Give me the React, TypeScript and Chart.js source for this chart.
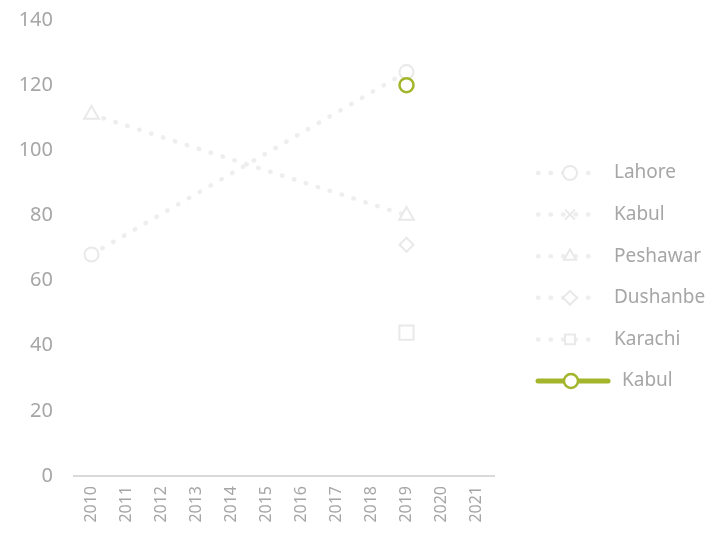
import React, { useEffect, useRef } from "react";
import { Chart, registerables } from "chart.js";
import { drawPoint } from "chart.js/helpers";

Chart.register(...registerables);

const years = ["2010", "2011", "2012", "2013", "2014", "2015", "2016", "2017", "2018", "2019", "2020", "2021"];
const lahore = [68, null, null, null, null, null, null, null, null, 124, null, null];
const kabulX = [null, null, null, null, null, null, null, null, null, null, null, null];
const peshawar = [111, null, null, null, null, null, null, null, null, 80, null, null];
const dushanbe = [null, null, null, null, null, null, null, null, null, 71, null, null];
const karachi = [null, null, null, null, null, null, null, null, null, 44, null, null];
const kabul = [null, null, null, null, null, null, null, null, null, 120, null, null];
const yTicks = [0, 20, 40, 60, 80, 100, 120, 140];

const FONT = "'Noto Sans', sans-serif";
const GREY = "#eeeeee";
const MARK = "#e9e9e9";
const GREEN = "#a3b52b";
const TEXT = "#a6a6a6";

function greyDs(label: string, data: (number | null)[], style: string, radius: number) {
  return {
    label,
    data,
    order: 1,
    borderColor: GREY,
    borderWidth: 4.5,
    borderDash: [0.5, 12],
    borderCapStyle: "round" as const,
    pointStyle: style,
    pointRadius: radius,
    pointBorderColor: MARK,
    pointBorderWidth: 2,
    pointBackgroundColor: "#ffffff",
    spanGaps: true,
    fill: false,
  };
}

const legendPlugin = {
  id: "customLegend",
  afterDraw(chart: any) {
    const ctx = chart.ctx;
    const ds = chart.data.datasets;
    const x0 = 530;
    const yStart = 165;
    const step = 41.6;
    ctx.save();
    ds.forEach((d: any, i: number) => {
      const y = yStart + i * step;
      const green = d.borderColor === GREEN;
      const x1 = green ? 600 : 592;
      const mx = green ? 563 : 562;
      ctx.save();
      ctx.strokeStyle = d.borderColor;
      ctx.lineWidth = d.borderWidth;
      ctx.lineCap = "round";
      ctx.setLineDash(d.borderDash || []);
      ctx.beginPath();
      ctx.moveTo(x0, y);
      ctx.lineTo(x1, y);
      ctx.stroke();
      ctx.restore();
      ctx.save();
      ctx.fillStyle = "#ffffff";
      ctx.strokeStyle = d.pointBorderColor;
      ctx.lineWidth = d.pointBorderWidth;
      ctx.setLineDash([]);
      drawPoint(ctx, { pointStyle: d.pointStyle, radius: 7, rotation: 0, borderWidth: d.pointBorderWidth }, mx, y);
      ctx.restore();
      ctx.fillStyle = TEXT;
      ctx.font = "19px " + FONT;
      ctx.textBaseline = "middle";
      ctx.textAlign = "left";
      ctx.fillText(d.label, green ? 614 : 606, y);
    });
    ctx.restore();
  },
};

export default function App() {
  const ref = useRef<HTMLCanvasElement | null>(null);
  useEffect(() => {
    if (!ref.current) return;
    const chart = new Chart(ref.current, {
      type: "line",
      data: {
        labels: years,
        datasets: [
          greyDs("Lahore", lahore, "circle", 7),
          greyDs("Kabul", kabulX, "crossRot", 7),
          greyDs("Peshawar", peshawar, "triangle", 8.5),
          greyDs("Dushanbe", dushanbe, "rectRot", 7),
          greyDs("Karachi", karachi, "rect", 10),
          {
            label: "Kabul",
            data: kabul,
            order: 0,
            borderColor: GREEN,
            borderWidth: 5,
            borderDash: [],
            pointStyle: "circle",
            pointRadius: 7,
            pointBorderColor: GREEN,
            pointBorderWidth: 2.5,
            pointBackgroundColor: "#ffffff",
            spanGaps: true,
            fill: false,
          } as any,
        ],
      },
      plugins: [legendPlugin],
      options: {
        animation: false,
        responsive: true,
        maintainAspectRatio: false,
        layout: { autoPadding: false, padding: { top: 0, right: 223, left: 0, bottom: 0 } },
        plugins: { legend: { display: false }, tooltip: { enabled: false } },
        scales: {
          x: {
            offset: true,
            grid: { display: false, drawTicks: false },
            border: { display: true, color: "#d9d9d9", width: 2 },
            ticks: {
              color: TEXT,
              font: { family: FONT, size: 16 },
              maxRotation: 90,
              minRotation: 90,
              padding: 10,
              autoSkip: false,
            },
            afterFit: (s: any) => {
              s.height = 61;
            },
          },
          y: {
            min: 0,
            max: 140,
            grid: { display: false, drawTicks: false },
            border: { display: false },
            afterBuildTicks: (s: any) => {
              s.ticks = yTicks.map((v) => ({ value: v }));
            },
            ticks: {
              color: TEXT,
              font: { family: FONT, size: 20 },
              padding: 21,
            },
            afterFit: (s: any) => {
              s.width = 66;
              s.paddingTop = 12;
              s.paddingBottom = 12;
            },
          },
        },
      },
    });
    return () => chart.destroy();
  }, []);
  return (
    <div style={{ width: 709, height: 529 }}>
      <canvas ref={ref} />
    </div>
  );
}
